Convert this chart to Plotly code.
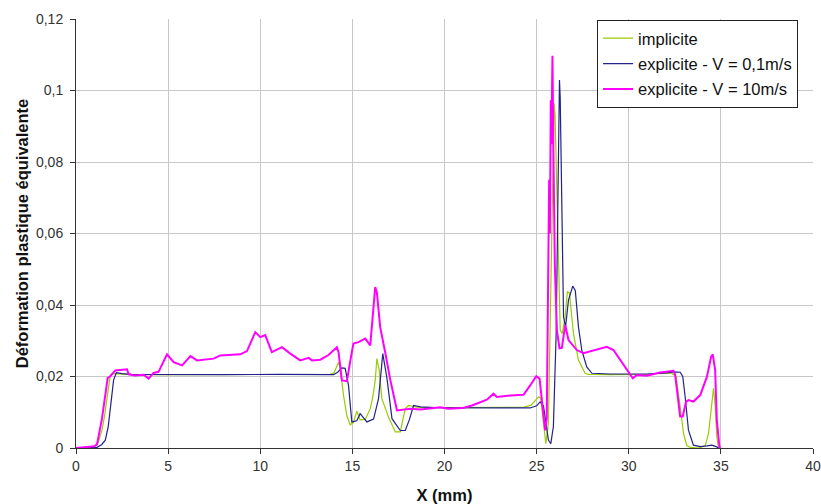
import plotly.graph_objects as go

# implicite
x_imp = [0, 0.9, 1.2, 1.41, 1.55, 1.68, 1.86, 2.04, 2.5, 3, 5, 8, 11, 13.8, 14.0, 14.25, 14.34, 14.52, 14.7, 14.88,
         15.06, 15.24, 15.42, 15.7, 15.97, 16.1, 16.24, 16.33, 16.45, 16.6, 16.97, 17.33, 17.6, 17.87, 18.06, 18.5,
         20, 22, 24.29, 24.7, 25.1, 25.22, 25.37, 25.5, 25.64, 25.73, 25.81, 25.88, 25.95, 26.0, 26.1, 26.19, 26.28,
         26.39, 26.55, 26.67, 26.78, 27.0, 27.27, 27.63, 27.81, 29, 31, 32.3, 32.57, 32.79, 32.97, 33.15, 33.33, 33.8,
         34.15, 34.33, 34.51, 34.6, 34.69, 34.78, 34.87]
y_imp = [0, 0, 0.0015, 0.005, 0.009, 0.0144, 0.0204, 0.0208, 0.0207, 0.0205, 0.0205, 0.0205, 0.0205, 0.0206, 0.021,
         0.024, 0.0225, 0.0147, 0.009, 0.0065, 0.0071, 0.0103, 0.0079, 0.008, 0.011, 0.014, 0.0189, 0.025, 0.022,
         0.0138, 0.0085, 0.0045, 0.0045, 0.011, 0.0119, 0.0114, 0.0113, 0.0113, 0.0114, 0.012, 0.0143, 0.014, 0.0063,
         0.0012, 0.007, 0.032, 0.06, 0.0834, 0.0964, 0.093, 0.0694, 0.046, 0.033, 0.032, 0.0367, 0.0437, 0.0434,
         0.032, 0.0246, 0.0209, 0.0206, 0.0205, 0.0206, 0.021, 0.02, 0.0116, 0.0041, 0.0007, 0.0002, 0, 0.0006,
         0.0041, 0.0125, 0.0167, 0.012, 0.0032, 0]

# explicite - V = 0,1m/s
x_v01 = [0, 0.8, 1.14, 1.4, 1.59, 1.75, 1.86, 2.04, 2.19, 2.5, 3.0, 5, 8, 11, 13.98, 14.2, 14.43, 14.61, 14.79, 14.97,
         15.24, 15.42, 15.79, 16.15, 16.42, 16.65, 16.88, 17.15, 17.6, 17.87, 18.1, 18.32, 18.7, 19.5, 21, 23, 24.65,
         25.0, 25.19, 25.37, 25.55, 25.64, 25.77, 25.91, 26.06, 26.13, 26.2, 26.24, 26.28, 26.35, 26.42, 26.46, 26.57,
         26.73, 26.96, 27.1, 27.27, 27.45, 27.72, 28.0, 29, 30, 31, 32.07, 32.43, 32.79, 32.93, 33.06, 33.24, 33.51,
         33.88, 34.24, 34.51, 34.74, 34.87]
y_v01 = [0, 0, 0.0002, 0.001, 0.0022, 0.006, 0.0116, 0.019, 0.0211, 0.0208, 0.0206, 0.0205, 0.0205, 0.0206, 0.0205,
         0.0212, 0.0224, 0.0223, 0.0175, 0.0073, 0.0076, 0.0096, 0.0073, 0.0081, 0.0138, 0.0264, 0.0194, 0.0082,
         0.0049, 0.0049, 0.008, 0.0119, 0.0115, 0.0113, 0.0112, 0.0112, 0.0112, 0.0118, 0.0129, 0.0118, 0.0054,
         0.0022, 0.0012, 0.006, 0.032, 0.06, 0.088, 0.1029, 0.098, 0.0768, 0.0507, 0.0367, 0.0339, 0.0414, 0.0453,
         0.044, 0.0339, 0.0274, 0.0227, 0.0209, 0.0207, 0.0207, 0.0207, 0.021, 0.0213, 0.0212, 0.02, 0.0144, 0.005,
         0.0008, 0.0004, 0.0006, 0.0008, 0.0004, 0]

# explicite - V = 10m/s
x_v10 = [0, 0.6, 1.0, 1.14, 1.41, 1.72, 1.85, 2.13, 2.5, 2.77, 2.86, 3.2, 3.67, 3.94, 4.21, 4.48, 4.94, 5.3, 5.76,
         6.21, 6.57, 7.0, 7.47, 7.83, 8.4, 8.92, 9.28, 9.73, 10.0, 10.27, 10.63, 11.18, 11.63, 12.17, 12.63, 12.81,
         13.26, 13.7, 14.16, 14.25, 14.43, 14.70, 14.97, 15.06, 15.33, 15.7, 15.97, 16.24, 16.33, 16.51, 16.78,
         17.06, 17.42, 18.15, 18.7, 19.77, 20.2, 21.0, 21.49, 21.94, 22.3, 22.66, 22.84, 23.56, 24.29, 24.65, 24.98,
         25.16, 25.28, 25.46, 25.55, 25.64, 25.68, 25.72, 25.77, 25.8, 25.86, 25.91, 25.99, 26.1, 26.24, 26.37,
         26.55, 26.73, 27.18, 27.54, 28.08, 28.45, 28.81, 29.17, 29.71, 30.04, 30.22, 30.44, 30.98, 31.7, 32.43,
         32.52, 32.64, 32.79, 32.93, 33.11, 33.24, 33.51, 33.88, 34.24, 34.47, 34.56, 34.69, 34.78, 34.92, 34.97]
y_v10 = [0, 0.0002, 0.0005, 0.001, 0.0082, 0.0196, 0.020, 0.0217, 0.0218, 0.022, 0.0206, 0.0203, 0.0205, 0.0194,
         0.021, 0.0213, 0.0262, 0.024, 0.0231, 0.0257, 0.0245, 0.0248, 0.025, 0.0259, 0.026, 0.0262, 0.0271, 0.0324,
         0.031, 0.0316, 0.0268, 0.0282, 0.0264, 0.0245, 0.0252, 0.0245, 0.0247, 0.026, 0.0282, 0.0268, 0.0189,
         0.0187, 0.0268, 0.0292, 0.0296, 0.0306, 0.0287, 0.045, 0.0435, 0.0338, 0.0268, 0.019, 0.0105, 0.011,
         0.0108, 0.0114, 0.011, 0.0112, 0.0119, 0.0128, 0.0135, 0.0152, 0.0143, 0.0147, 0.0149, 0.0175, 0.0201,
         0.0194, 0.0129, 0.0049, 0.0082, 0.045, 0.075, 0.06, 0.0973, 0.085, 0.1097, 0.0834, 0.0507, 0.033, 0.0279,
         0.028, 0.0344, 0.0302, 0.0274, 0.0265, 0.0273, 0.0279, 0.0283, 0.0274, 0.0232, 0.0209, 0.0195, 0.0204,
         0.0202, 0.0211, 0.0216, 0.0204, 0.0144, 0.0088, 0.0088, 0.013, 0.0134, 0.013, 0.0148, 0.0199, 0.0255,
         0.0262, 0.0218, 0.0078, 0.0004, 0]

names = ["implicite", "explicite - V = 0,1m/s", "explicite - V = 10m/s"]

x_ticks = [0, 5, 10, 15, 20, 25, 30, 35, 40]
y_ticks = [0, 0.02, 0.04, 0.06, 0.08, 0.1, 0.12]
y_tick_text = ["0", "0,02", "0,04", "0,06", "0,08", "0,1", "0,12"]

fig = go.Figure()
fig.add_trace(go.Scatter(x=x_imp, y=y_imp, mode="lines", name=names[0], legendgroup="a",
                         line=dict(color="#99cc00", width=1.2)))
fig.add_trace(go.Scatter(x=x_v01, y=y_v01, mode="lines", name=names[1], legendgroup="b",
                         line=dict(color="#22228a", width=1.2)))
fig.add_trace(go.Scatter(x=x_v10, y=y_v10, mode="lines", name=names[2], legendgroup="c",
                         line=dict(color="#ff00ff", width=2)))

fig.update_layout(
    width=821, height=504,
    margin=dict(l=76, r=8, t=19, b=56, autoexpand=False),
    paper_bgcolor="white", plot_bgcolor="white",
    font=dict(family="Liberation Sans, Arial, sans-serif", size=14, color="#333"),
    showlegend=True,
    legend=dict(x=0.707, y=0.998, xanchor="left", yanchor="top",
                bgcolor="white", bordercolor="#222", borderwidth=1,
                font=dict(size=16.5, color="#111"), tracegroupgap=1,
                traceorder="grouped"),
    xaxis=dict(range=[0, 40], tickvals=x_ticks, showgrid=True, gridcolor="#c8c8c8", gridwidth=1,
               showline=True, linecolor="#333", linewidth=1, ticks="outside", ticklen=5, tickcolor="#333",
               zeroline=False, automargin=False, ticklabeloverflow="allow",
               title=dict(text="<b>X (mm)</b>", standoff=17, font=dict(size=16.5, color="#111"))),
    yaxis=dict(range=[0, 0.12], tickvals=y_ticks, ticktext=y_tick_text, showgrid=True, gridcolor="#c8c8c8",
               gridwidth=1, showline=True, linecolor="#333", linewidth=1, ticks="outside", ticklen=5,
               tickcolor="#333", zeroline=False, automargin=False, ticklabelstandoff=4,
               title=dict(text="<b>Déformation plastique équivalente</b>", standoff=3,
                          font=dict(size=16.5, color="#111"))),
)

fig.write_html("out.html", config={"displayModeBar": False},
               post_script="document.body.style.margin='0';document.body.style.overflow='hidden';")
